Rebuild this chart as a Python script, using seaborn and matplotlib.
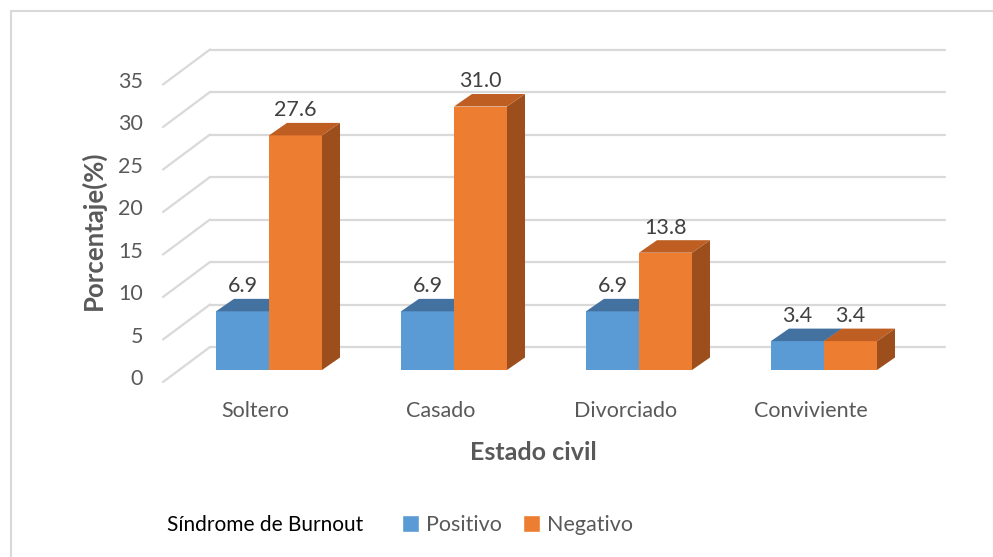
import numpy as np
import pandas as pd
import matplotlib
matplotlib.use("Agg")
import matplotlib.pyplot as plt
import seaborn as sns
from matplotlib.patches import Polygon
from matplotlib.lines import Line2D

# Data
estados = ["Soltero", "Casado", "Divorciado", "Conviviente"]
sindrome = ["Positivo", "Negativo"]
positivo = [6.9, 6.9, 6.9, 3.4]
negativo = [27.6, 31.0, 13.8, 3.4]
y_ticks = [0, 5, 10, 15, 20, 25, 30, 35]

df = pd.DataFrame({
    "Estado civil": estados * 2,
    "Sindrome": ["Positivo"] * 4 + ["Negativo"] * 4,
    "Porcentaje": positivo + negativo,
})

front = {"Positivo": "#5B9BD5", "Negativo": "#ED7D31"}
top = {"Positivo": "#4371A0", "Negativo": "#BE5E22"}
side = {"Positivo": "#3F6A94", "Negativo": "#9C4E1C"}

sns.set_style("white")
plt.rcParams["font.family"] = ["Lato", "DejaVu Sans"]

W, H = 993, 557
fig = plt.figure(figsize=(W / 100, H / 100), dpi=100)
# axes placed in pixels: x 100..970, y 30..440
ax = fig.add_axes([100 / W, 1 - 440 / H, 870 / W, 410 / H])

sns.barplot(data=df, x="Estado civil", y="Porcentaje", hue="Sindrome",
            hue_order=sindrome, palette=front, width=0.573, gap=0,
            saturation=1, ax=ax, legend=True)

px_x = 185.0   # pixels per category
px_y = 8.5     # pixels per percent
ddx, ddy = 18 / px_x, 12.5 / px_y        # bar depth
back_dy, front_dy = 23 / px_y, -12 / px_y  # floor planes
back_x0, back_x1 = (210 - 269) / px_x, (945 - 269) / px_x
front_x0 = (163 - 269) / px_x

grid_c = "#D9D9D9"
for v in y_ticks:
    ax.plot([back_x0, back_x1], [v + back_dy, v + back_dy], color=grid_c, lw=1.6, zorder=0)
    ax.plot([front_x0, back_x0], [v + front_dy, v + back_dy], color=grid_c, lw=1.6, zorder=0)
    ax.text((143 - 269) / px_x, v + front_dy + 0.3, str(v), ha="right", va="center",
            fontsize=15.5, color="#595959")

# 3D faces on top of seaborn bars
for z, (name, cont) in enumerate(zip(sindrome, ax.containers)):
    for bar in cont:
        x0 = bar.get_x()
        w = bar.get_width()
        h = bar.get_height()
        bar.set_zorder(2 + 2 * z)
        bar.set_edgecolor("none")
        ax.add_patch(Polygon([(x0, h), (x0 + ddx, h + ddy), (x0 + w + ddx, h + ddy), (x0 + w, h)],
                             closed=True, facecolor=top[name], edgecolor="none", zorder=2 + 2 * z))
        ax.add_patch(Polygon([(x0 + w, 0), (x0 + w + ddx, ddy), (x0 + w + ddx, h + ddy), (x0 + w, h)],
                             closed=True, facecolor=side[name], edgecolor="none", zorder=1 + 2 * z))
        ax.text(x0 + w / 2, h + ddy + 0.3, f"{h:.1f}", ha="center", va="bottom",
                fontsize=15.5, color="#404040", zorder=10)

for i, lab in enumerate(estados):
    ax.text(i - 0.072, -4.82, lab, ha="center", va="center", fontsize=15.5, color="#595959")

ax.set_xlim((100 - 269) / px_x, (970 - 269) / px_x)
ax.set_ylim((370 - 440) / px_y, (370 - 30) / px_y)
ax.set_xticks([])
ax.set_yticks([])
ax.set_xlabel("")
ax.set_ylabel("")
for s in ax.spines.values():
    s.set_visible(False)
ax.patch.set_alpha(0)

fig.text(93 / W, 1 - 230 / H, "Porcentaje(%)", rotation=90, ha="center", va="center",
         fontsize=18.5, fontweight="bold", color="#595959")
fig.text(533 / W, 1 - 452 / H, "Estado civil", ha="center", va="center",
         fontsize=18, fontweight="bold", color="#595959")

# legend
handles, labels = ax.get_legend_handles_labels()
ax.get_legend().remove()
fig.text(167 / W, 1 - 525 / H, "Síndrome de Burnout", ha="left", va="center",
         fontsize=15, color="#000000")
fig.legend(handles, labels, ncol=2, frameon=False, loc="center left",
           bbox_to_anchor=(402 / W, 1 - 525 / H), borderpad=0, borderaxespad=0,
           handlelength=0.8, handleheight=0.8, handletextpad=0.3, columnspacing=1.0,
           prop={"size": 15.5}, labelcolor="#595959")

# chart frame
fig.add_artist(Line2D([11 / W, 1], [1 - 11 / H, 1 - 11 / H], color="#D9D9D9", lw=1.5,
                      transform=fig.transFigure))
fig.add_artist(Line2D([11 / W, 11 / W], [0, 1 - 11 / H], color="#D9D9D9", lw=1.5,
                      transform=fig.transFigure))

fig.savefig("out.png", dpi=100)
